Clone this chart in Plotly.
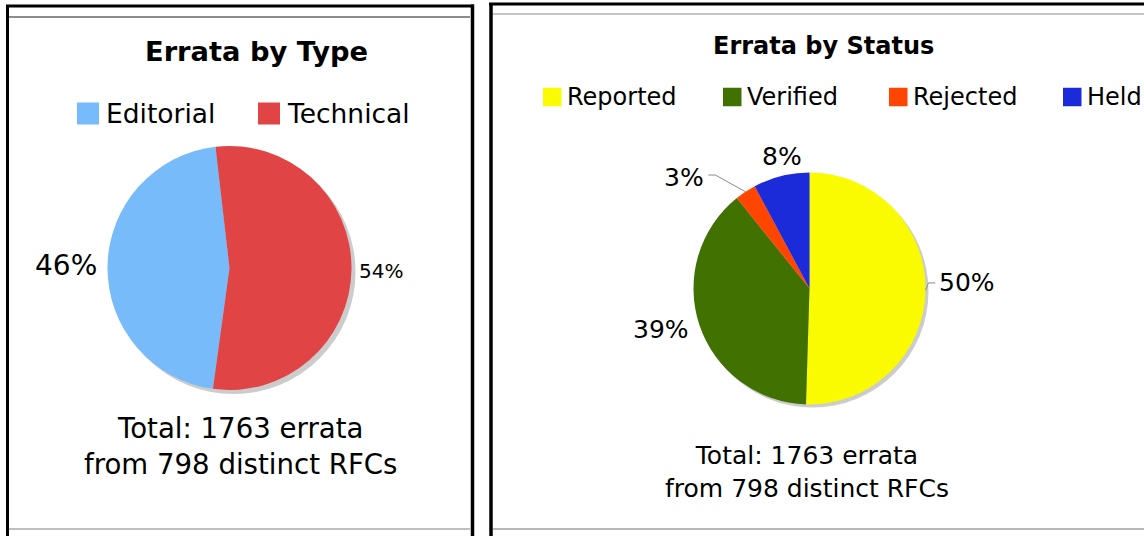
import math
import plotly.graph_objects as go

W, H = 1144, 536

# ---------------- data ----------------
type_title = "Errata by Type"
type_labels = ["Editorial", "Technical"]
type_values = [811, 952]
type_colors = ["#77BBFA", "#E04444"]

status_title = "Errata by Status"
status_labels = ["Reported", "Verified", "Rejected", "Held"]
status_values = [890, 683, 52, 138]
status_colors = ["#FAFA00", "#417100", "#FF4500", "#1C2BD9"]

rfc_count = 798

# ---------------- style ----------------
FONT = "DejaVu Sans"
SHADOW = "#cccccc"


def fx(x):
    return x / W


def fy(y):
    return 1 - y / H


# "first_end": angle (deg, clockwise from 12 o'clock) where the first slice ends
panels = [
    dict(labels=type_labels, values=type_values, colors=type_colors, title=type_title,
         cx=229.5, cy=268, r=122, first_end=-6.6, shadow=4,
         title_x=256, title_y=51.5, title_size=27.3,
         legend_x=[77, 258], legend_y=113.5, legend_sq=22, legend_size=26.5, legend_gap=6,
         label_f=[1.34, 1.24], label_nudge=[0.3, 0.5], label_size=[28, 20], leaders={},
         foot_x=240, foot_y=446, foot_size=27.6),
    dict(labels=status_labels, values=status_values, colors=status_colors, title=status_title,
         cx=809.5, cy=288.5, r=116, first_start=0, shadow=3,
         title_x=823, title_y=46, title_size=24,
         legend_x=[543, 723, 889, 1063], legend_y=97, legend_sq=18.5, legend_size=24, legend_gap=4,
         label_f=[1.36, 1.33, 1.45, 1.16], label_nudge=[-2.9, 3, -15, 2.3],
         label_size=[25, 25, 25, 25], leaders={0: "right", 2: "left"},
         foot_x=807, foot_y=472, foot_size=25),
]

fig = go.Figure()
shapes = []
annotations = []


def mid_angles(values, rotation):
    total = sum(values)
    a = rotation
    out = []
    for v in values:
        span = v / total * 360
        out.append(a + span / 2)
        a += span
    return out


for p in panels:
    cx, cy, r, s = p["cx"], p["cy"], p["r"], p["shadow"]
    total = sum(p["values"])
    if "first_end" in p:
        rotation = p["first_end"] - 360 * p["values"][0] / total
        if rotation < -360:
            rotation += 360
    else:
        rotation = p["first_start"]
    # shadow
    fig.add_trace(go.Pie(
        values=[1], marker=dict(colors=[SHADOW], line=dict(width=0)),
        domain=dict(x=[fx(cx - r + s), fx(cx + r + s)], y=[fy(cy + r + s), fy(cy - r + s)]),
        textinfo="none", hoverinfo="skip", showlegend=False, sort=False,
    ))
    fig.add_trace(go.Pie(
        labels=p["labels"], values=p["values"],
        marker=dict(colors=p["colors"], line=dict(width=0)),
        domain=dict(x=[fx(cx - r), fx(cx + r)], y=[fy(cy + r), fy(cy - r)]),
        textinfo="none", sort=False, direction="clockwise", rotation=rotation,
        showlegend=False,
    ))
    mids = mid_angles(p["values"], rotation)
    for i, v in enumerate(p["values"]):
        txt = f"{round(v / total * 100)}%"
        a = math.radians(mids[i] + p["label_nudge"][i])
        d = p["label_f"][i] * r
        lx = cx + d * math.sin(a)
        ly = cy - d * math.cos(a)
        sz = p["label_size"][i]
        annotations.append(dict(x=fx(lx), y=fy(ly), xref="paper", yref="paper", text=txt,
                                showarrow=False, xanchor="center", yanchor="middle",
                                font=dict(family=FONT, size=sz, color="#000")))
        if i in p["leaders"]:
            am = math.radians(mids[i])
            ex = cx + r * math.sin(am)
            ey = cy - r * math.cos(am)
            hw = sz * (0.636 * (len(txt) - 1) + 0.95) / 2
            if p["leaders"][i] == "right":
                endx = lx - hw - 4
                pts = [(ex, ey), (ex + 3, ly), (endx, ly)]
            else:
                endx = lx + hw + 5
                pts = [(ex, ey), (endx + 7, ly - 2), (endx, ly - 2)]
            for (x0, y0), (x1, y1) in zip(pts[:-1], pts[1:]):
                shapes.append(dict(type="line", xref="paper", yref="paper",
                                   x0=fx(x0), y0=fy(y0), x1=fx(x1), y1=fy(y1),
                                   line=dict(color="#8a8a8a", width=1)))
    # title
    annotations.append(dict(x=fx(p["title_x"]), y=fy(p["title_y"]), xref="paper", yref="paper",
                            text=f"<b>{p['title']}</b>", showarrow=False,
                            xanchor="center", yanchor="middle",
                            font=dict(family=FONT, size=p["title_size"], color="#000")))
    # legend
    sq = p["legend_sq"]
    for lx0, lab, col in zip(p["legend_x"], p["labels"], p["colors"]):
        ly0 = p["legend_y"]
        shapes.append(dict(type="rect", xref="paper", yref="paper",
                           x0=fx(lx0), x1=fx(lx0 + sq), y0=fy(ly0 + sq / 2), y1=fy(ly0 - sq / 2),
                           fillcolor=col, line=dict(width=0)))
        annotations.append(dict(x=fx(lx0 + sq + p["legend_gap"]), y=fy(ly0), xref="paper",
                                yref="paper", text=lab, showarrow=False, xanchor="left",
                                yanchor="middle", borderpad=0,
                                font=dict(family=FONT, size=p["legend_size"], color="#000")))
    # footer
    annotations.append(dict(x=fx(p["foot_x"]), y=fy(p["foot_y"]), xref="paper", yref="paper",
                            text=f"Total: {total} errata<br>from {rfc_count} distinct RFCs",
                            showarrow=False, xanchor="center", yanchor="middle", align="center",
                            font=dict(family=FONT, size=p["foot_size"], color="#000")))


def line(x0, y0, x1, y1, color, width):
    shapes.append(dict(type="line", xref="paper", yref="paper",
                       x0=fx(x0), y0=fy(y0), x1=fx(x1), y1=fy(y1),
                       line=dict(color=color, width=width)))


# panel frames
line(9, 17, 470, 17, "#8c8c8c", 2)
line(493, 14, 1144, 14, "#c4c4c4", 2)
line(9, 529, 470, 529, "#aaaaaa", 1.5)
line(493, 529, 1144, 529, "#a0a0a0", 1.5)
line(7.5, 6, 7.5, 540, "#000", 3)
line(6, 6, 474, 6, "#000", 3)
line(472.5, 4.5, 472.5, 540, "#000", 3.5)
line(491, 4, 491, 540, "#000", 3.5)
line(489, 4, 1150, 4, "#000", 3)

fig.update_layout(
    width=W, height=H, margin=dict(l=0, r=0, t=0, b=0),
    paper_bgcolor="white", plot_bgcolor="white",
    showlegend=False, shapes=shapes, annotations=annotations,
    hovermode=False,
)

fig.write_html("out.html", config={"displayModeBar": False},
               post_script="document.body.style.margin='0px';")
